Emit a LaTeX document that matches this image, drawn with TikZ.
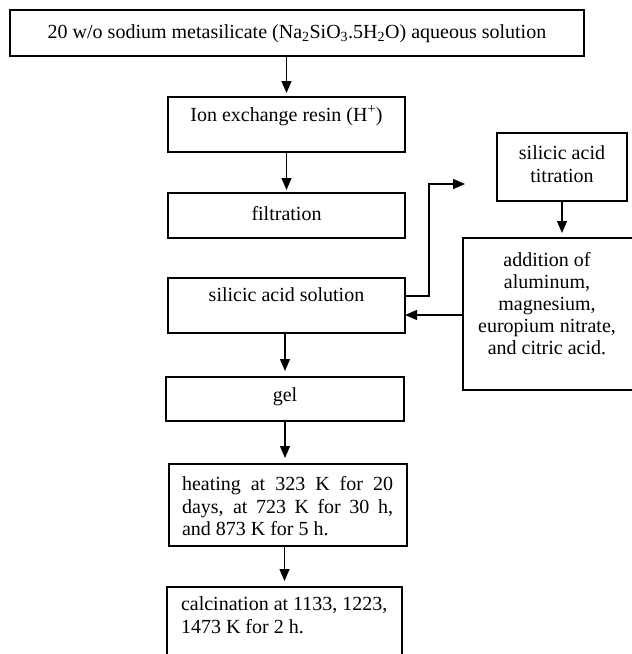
\documentclass[tikz,border=0pt]{standalone}
\usepackage{fontspec}
\setmainfont{Liberation Serif}
\usetikzlibrary{arrows.meta}
\tikzset{
  box/.style={draw=black, line width=1.3pt, inner sep=0pt, outer sep=0pt, fill=none},
  txt/.style={inner sep=0pt, outer sep=0pt, font=\fontsize{20}{22}\selectfont, anchor=base},
  txtl/.style={txt, anchor=base west},
  arr/.style={line width=1.3pt, -{Triangle[length=12pt,width=10pt]}},
}
\begin{document}
\begin{tikzpicture}[x=1pt,y=-1pt]
\useasboundingbox (0,0) rectangle (632,654);
\fill[white] (0,0) rectangle (632,654);
\clip (0,0) rectangle (632,654);
% boxes
\node[box, minimum width=574pt, minimum height=46pt] (top) at (297,33) {};
\node[box, minimum width=237pt, minimum height=55pt] (ion) at (286.5,124.5) {};
\node[box, minimum width=237pt, minimum height=45pt] (filt) at (286.5,215.5) {};
\node[box, minimum width=237pt, minimum height=55pt] (sol) at (286.5,305.5) {};
\node[box, minimum width=238pt, minimum height=44pt] (gel) at (285,399) {};
\node[box, minimum width=238pt, minimum height=82pt] (heat) at (288,505) {};
\node[box, minimum width=235pt, minimum height=93pt] (calc) at (284.5,633.5) {};
\node[box, minimum width=130pt, minimum height=68pt] (tit) at (562,167) {};
\node[box, minimum width=182pt, minimum height=152pt] (add) at (554,314) {};
% texts
\node[txt] (ttop) at (297,38) {20 w/o sodium metasilicate (Na\textsubscript{2}SiO\textsubscript{3}.5H\textsubscript{2}O) aqueous solution};
\node[txt] (tion) at (286.5,121) {Ion exchange resin (H\textsuperscript{+})};
\node[txt] (tfilt) at (286.5,220) {filtration};
\node[txt] (tsol) at (286.5,301) {silicic acid solution};
\node[txt] (tgel) at (285,401) {gel};
\node[txt] (tit1) at (562,159) {silicic acid};
\node[txt] (tit2) at (562,182) {titration};
\node[txt] (ad1) at (547,266) {addition of};
\node[txt] (ad2) at (547,288) {aluminum,};
\node[txt] (ad3) at (547,310) {magnesium,};
\node[txt] (ad4) at (547,332) {europium nitrate,};
\node[txt] (ad5) at (547,354) {and citric acid.};
\node[txtl] (h1) at (182,490) {\makebox[211pt][s]{heating at 323 K for 20}};
\node[txtl] (h2) at (182,513) {\makebox[211pt][s]{days, at 723 K for 30 h,}};
\node[txtl] (h3) at (182,535) {and 873 K for 5 h.};
\node[txtl] (c1) at (181,610) {calcination at 1133, 1223,};
\node[txtl] (c2) at (181,633) {1473 K for 2 h.};
% helper coordinates
\coordinate (yin) at (0,315);
\coordinate (yout) at (0,296);
\coordinate (bend) at (429,184);
\coordinate (freeend) at (465,184);
% connectors
\draw[arr, shorten >=4pt] (top.south -| ion.north) -- (ion.north);
\draw[arr, shorten >=3pt] (ion.south) -- (filt.north);
\draw[arr, shorten >=6pt] (sol.south -| gel.north) -- (gel.north);
\draw[arr, shorten >=6pt] (gel.south) -- (gel.south |- heat.north);
\draw[arr, shorten >=6pt] (heat.south -| calc.north) -- (calc.north);
\draw[arr, shorten >=5pt] (tit.south) -- (tit.south |- add.north);
\draw[arr] (add.west |- yin) -- (sol.east |- yin);
\draw[arr] (sol.east |- yout) -| (bend) -- (freeend);
\end{tikzpicture}
\end{document}
